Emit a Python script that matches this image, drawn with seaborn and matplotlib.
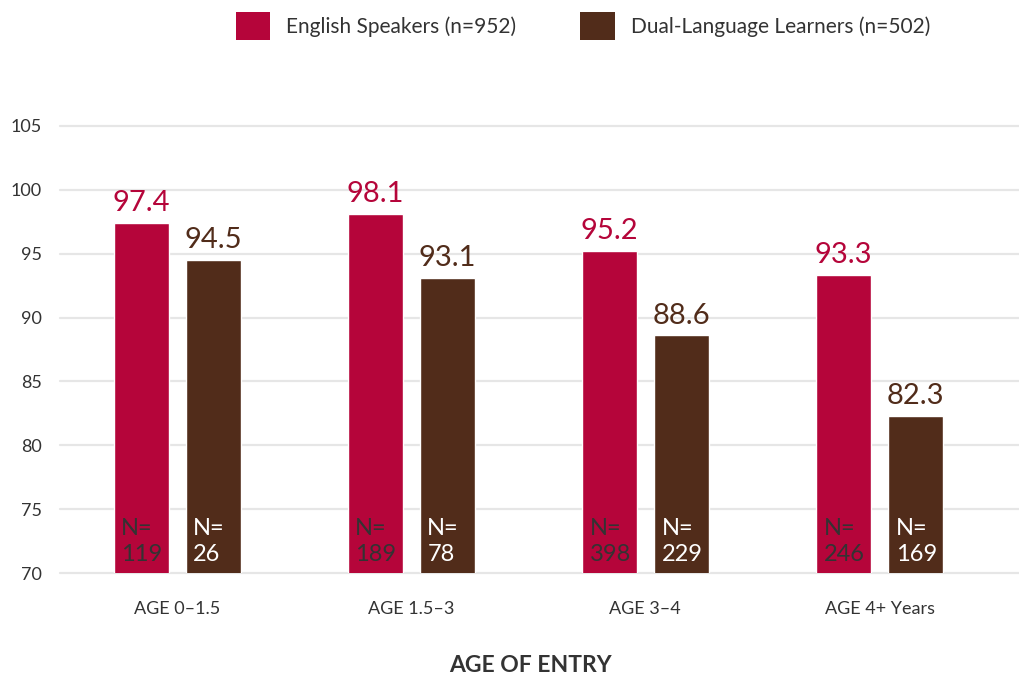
import pandas as pd
import matplotlib
matplotlib.use("Agg")
import matplotlib.pyplot as plt
import seaborn as sns
from matplotlib.patches import Patch

categories = ["AGE 0–1.5", "AGE 1.5–3", "AGE 3–4", "AGE 4+ Years"]
english = [97.4, 98.1, 95.2, 93.3]
dual = [94.5, 93.1, 88.6, 82.3]
english_n = [119, 189, 398, 246]
dual_n = [26, 78, 229, 169]
groups = ["English Speakers (n=952)", "Dual-Language Learners (n=502)"]
colors = ["#B5053A", "#512C1A"]
text_color = "#333333"

df = pd.DataFrame({
    "age": categories * 2,
    "score": english + dual,
    "group": [groups[0]] * 4 + [groups[1]] * 4,
})

sns.set_style("white")
plt.rcParams["font.family"] = ["Lato", "DejaVu Sans"]

fig = plt.figure(figsize=(10.2, 6.79), dpi=100)
ax = fig.add_axes([60 / 1020, 1 - 573 / 679, 1 - 60 / 1020, (573 - 126) / 679])

sns.barplot(data=df, x="age", y="score", hue="group", hue_order=groups,
            palette=colors, width=0.615, gap=0.236, saturation=1,
            legend=False, ax=ax)

ax.set_ylim(70, 105)
ax.set_xlim(-0.5, 3.6)
ax.set_yticks(range(70, 106, 5))
ax.grid(axis="y", color="#e6e6e6", linewidth=1.6)
for line in ax.get_ygridlines():
    line.set_clip_on(False)
ax.set_axisbelow(True)
sns.despine(ax=ax, left=True, bottom=True)
ax.tick_params(axis="y", length=0, pad=13, labelsize=13, labelcolor=text_color)
ax.tick_params(axis="x", length=0, pad=20, labelsize=13, labelcolor=text_color)
ax.set_ylabel("")
ax.set_xlabel("AGE OF ENTRY", fontsize=16.5, fontweight="bold", color=text_color)
ax.xaxis.set_label_coords((530 - 60) / 960, -(665 - 573) / 447)
ax.xaxis.label.set_va("center")

# value labels above bars, N labels inside at the bottom
n_lists = [english_n, dual_n]
n_colors = [text_color, "white"]
for i, cont in enumerate(ax.containers):
    ax.bar_label(cont, labels=[f"{v:.1f}" for v in cont.datavalues],
                 padding=5, fontsize=21, color=colors[i])
    for bar, n in zip(cont, n_lists[i]):
        ax.annotate(f"N=\n{n}", xy=(bar.get_x(), 70), xytext=(5.5, 6),
                    textcoords="offset points", ha="left", va="bottom",
                    fontsize=17, color=n_colors[i], linespacing=1.3)

handles = [Patch(facecolor=c, edgecolor="none") for c in colors]
fig.legend(handles, groups, loc="center", bbox_to_anchor=(0.5716, 0.962), ncol=2,
           frameon=False, fontsize=15, handlelength=1.65, handleheight=1.65,
           handletextpad=0.77, columnspacing=3.07, labelcolor=text_color)

fig.savefig("out.png", dpi=100)
